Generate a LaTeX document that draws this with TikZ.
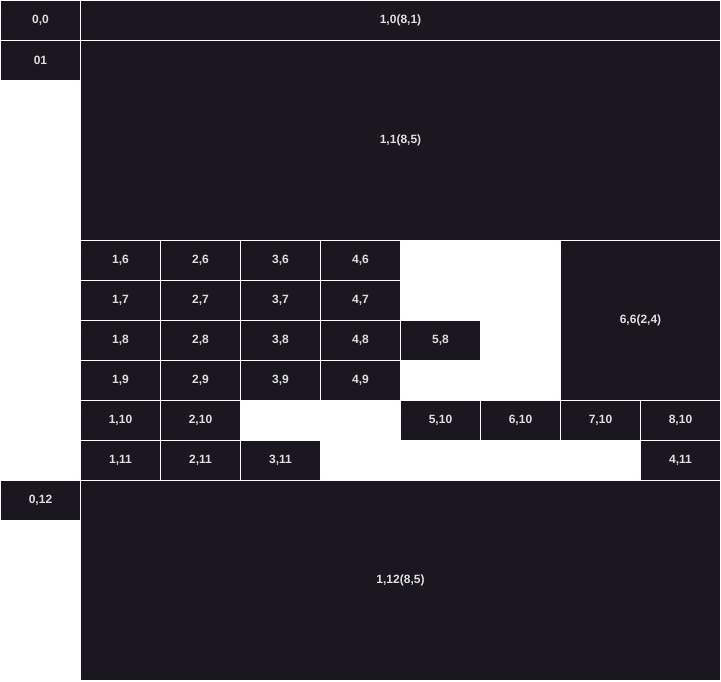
\documentclass[tikz,border=0pt]{standalone}
\usepackage{fontspec}
\setmainfont{Liberation Sans}
\usepackage{tikz}
\definecolor{cellfill}{HTML}{1A1720}
\definecolor{celltext}{HTML}{DEDEDE}
\tikzstyle{cell} = [fill=cellfill,text=celltext,inner sep=0pt,outer sep=0pt,
  minimum width=79pt,minimum height=39pt,font=\fontsize{12}{14}\selectfont\bfseries]

\begin{document}
\begin{tikzpicture}[x=1pt,y=-1pt]
        \useasboundingbox (0,0) rectangle (721,681);
        \fill[white] (0,0) rectangle (721,681);
        % left column
        \node[cell] at (40.5, 20.5) (c0-0) {0,0};
        \node[cell] at (40.5, 60.5) (c0-1) {01};
        \node[cell] at (40.5,500.5) (c0-12) {0,12};
        % wide blocks
        \node[cell,minimum width=639pt] at (400.5, 20.5) (c1-0) {1,0(8,1)};
        \node[cell,minimum width=639pt,minimum height=199pt] at (400.5,140.5) (c1-1) {1,1(8,5)};
        \node[cell,minimum width=159pt,minimum height=159pt] at (640.5,320.5) (c6-6) {6,6(2,4)};
        \node[cell,minimum width=639pt,minimum height=199pt] at (400.5,580.5) (c1-12) {1,12(8,5)};
        % rows 6 to 9
        \node[cell] at (120.5,260.5) (c1-6) {1,6};
        \node[cell] at (200.5,260.5) (c2-6) {2,6};
        \node[cell] at (280.5,260.5) (c3-6) {3,6};
        \node[cell] at (360.5,260.5) (c4-6) {4,6};
        \node[cell] at (120.5,300.5) (c1-7) {1,7};
        \node[cell] at (200.5,300.5) (c2-7) {2,7};
        \node[cell] at (280.5,300.5) (c3-7) {3,7};
        \node[cell] at (360.5,300.5) (c4-7) {4,7};
        \node[cell] at (120.5,340.5) (c1-8) {1,8};
        \node[cell] at (200.5,340.5) (c2-8) {2,8};
        \node[cell] at (280.5,340.5) (c3-8) {3,8};
        \node[cell] at (360.5,340.5) (c4-8) {4,8};
        \node[cell] at (440.5,340.5) (c5-8) {5,8};
        \node[cell] at (120.5,380.5) (c1-9) {1,9};
        \node[cell] at (200.5,380.5) (c2-9) {2,9};
        \node[cell] at (280.5,380.5) (c3-9) {3,9};
        \node[cell] at (360.5,380.5) (c4-9) {4,9};
        % rows 10 and 11
        \node[cell] at (120.5,420.5) (c1-10) {1,10};
        \node[cell] at (200.5,420.5) (c2-10) {2,10};
        \node[cell] at (440.5,420.5) (c5-10) {5,10};
        \node[cell] at (520.5,420.5) (c6-10) {6,10};
        \node[cell] at (600.5,420.5) (c7-10) {7,10};
        \node[cell] at (680.5,420.5) (c8-10) {8,10};
        \node[cell] at (120.5,460.5) (c1-11) {1,11};
        \node[cell] at (200.5,460.5) (c2-11) {2,11};
        \node[cell] at (280.5,460.5) (c3-11) {3,11};
        \node[cell] at (680.5,460.5) (c4-11) {4,11};
\end{tikzpicture}
\end{document}
